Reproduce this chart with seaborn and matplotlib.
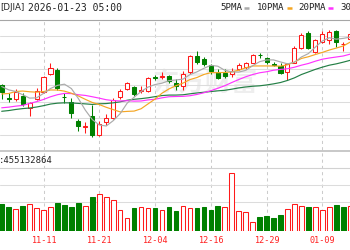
import numpy as np
import pandas as pd
import matplotlib
matplotlib.use("Agg")
import matplotlib.pyplot as plt
import matplotlib.transforms as mtrans
from matplotlib.lines import Line2D
import seaborn as sns

# ---------------- data ----------------
dates = ["11-03", "11-04", "11-05", "11-06", "11-07", "11-10", "11-11", "11-12", "11-13", "11-14",
         "11-17", "11-18", "11-19", "11-20", "11-21", "11-24", "11-25", "11-26", "11-28",
         "12-01", "12-02", "12-03", "12-04", "12-05", "12-08", "12-09", "12-10", "12-11", "12-12",
         "12-15", "12-16", "12-17", "12-18", "12-19", "12-22", "12-23", "12-24", "12-26",
         "12-29", "12-30", "12-31", "01-02", "01-05", "01-06", "01-07", "01-08", "01-09",
         "01-12", "01-13", "01-14", "01-15"]
opens = [47600, 47140, 47100, 47200, 46750, 47100, 47360, 48010, 48170, 47180,
         46990, 46290, 46040, 46460, 45760, 46250, 46400, 47150, 47460,
         47520, 47400, 47370, 47900, 47900, 47940, 47680, 47570, 48090, 48690,
         48580, 48350, 48110, 48050, 48000, 48200, 48270, 48440, 48730,
         48620, 48400, 48320, 48100, 48440, 48980, 49530, 48850, 49220,
         49280, 49620, 49120, 49310]
highs = [47650, 47300, 47470, 47300, 46990, 47500, 47960, 48430, 48230, 47300,
         47110, 46350, 46250, 46860, 46260, 46530, 47110, 47450, 47730,
         47560, 47560, 47920, 47990, 48100, 47990, 47830, 48120, 48730, 48880,
         48640, 48400, 48200, 48200, 48230, 48420, 48470, 48760, 48790,
         48650, 48450, 48420, 48420, 49050, 49530, 49620, 49310, 49620,
         49640, 49650, 49220, 49560]
lows = [47090, 46990, 47030, 46820, 46440, 47050, 47330, 47980, 47420, 46930,
        46380, 45910, 45840, 45690, 45720, 46120, 46350, 47100, 47430,
        47200, 47300, 47340, 47780, 47850, 47700, 47430, 47440, 48000, 48400,
        48300, 48000, 47850, 47880, 47900, 48150, 48200, 48420, 48620,
        48400, 48300, 48010, 47800, 48420, 48940, 48940, 48800, 49180,
        49150, 49030, 48880, 49280]
closes = [47340, 47090, 47340, 46910, 46930, 47390, 47920, 48240, 47500, 47150,
          46570, 46070, 46080, 45750, 46150, 46380, 47060, 47390, 47690,
          47260, 47440, 47880, 47860, 47940, 47740, 47560, 48030, 48700, 48450,
          48400, 48120, 47870, 47950, 48140, 48360, 48440, 48730, 48710,
          48460, 48370, 48060, 48380, 48980, 49460, 49000, 49270, 49510,
          49590, 49190, 49150, 49500]
# volume, millions of shares
volumes = [540, 474, 434, 506, 540, 454, 420, 474, 566, 520,
           474, 566, 500, 674, 740, 686, 614, 420, 254,
           454, 474, 466, 454, 420, 474, 406, 506, 460, 454,
           474, 420, 510, 486, 1154, 394, 380, 180, 274,
           294, 254, 314, 434, 540, 506, 474, 474, 420,
           474, 520, 490, 500]
# closes before the visible window (for the moving averages)
history_closes = [46382, 46293, 46121, 45947, 46247, 46316, 46398, 46441, 46520, 46758,
                  46695, 46603, 46602, 46358, 45480, 46068, 46270, 46253, 45952, 46191,
                  46707, 46925, 46590, 46735, 47207, 47545, 47706, 47632, 47522, 47563]
tick_labels = ["10-30", "11-11", "11-21", "12-04", "12-16", "12-29", "01-09"]
tick_pos = [-2, 6, 14, 22, 30, 38, 46]
ma_periods = [5, 10, 20, 30]
ma_names = ["5PMA", "10PMA", "20PMA", "30PMA"]
ma_colors = ["#ababab", "#f5a623", "#ff33ff", "#237f45"]
title_code = "[DJIA]"
title_time = "2026-01-23 05:00"
volume_text = ":455132864"

# ---------------- style ----------------
sns.set_theme(style="white")
plt.rcParams["font.family"] = ["DejaVu Sans"]

W, H = 350, 250
fig = plt.figure(figsize=(3.5, 2.5), dpi=100)
fig.patch.set_facecolor("white")


def fx(x):
    return x / W


def fy(y):
    return 1 - y / H


RED = "#ff1a1a"
GREEN = "#008000"
n = len(closes)
idx = np.arange(n)
xlim = (-0.244, -0.244 + W / 6.97)
ylo, yhi = 45157, 50043

# background axes: vertical dashed grid + watermark
ax_bg = fig.add_axes([0, fy(231), 1, fy(19.5) - fy(231)])
ax_bg.set_xlim(xlim)
ax_bg.axis("off")
for p in tick_pos:
    ax_bg.axvline(p, color="#cccccc", lw=0.75, ls=(0, (3, 3)))
ax_bg.text(fx(205), fy(83), "东方财富", transform=fig.transFigure, ha="center", va="center",
           fontsize=19, fontweight="bold", color="#eeeeee", family=["Noto Sans CJK SC"])

# ---------------- main price panel ----------------
ax = fig.add_axes([0, fy(151), 1, fy(19.5) - fy(151)])
ax.set_facecolor("none")
ax.set_xlim(xlim)
ax.set_ylim(ylo, yhi)
ax.set_yticks(np.linspace(ylo, yhi, 9)[1:-1])
ax.grid(axis="y", color="#dcdcdc", lw=0.75)
ax.grid(axis="x", visible=False)
ax.tick_params(left=False, bottom=False, labelleft=False, labelbottom=False)
for s in ["left", "right"]:
    ax.spines[s].set_visible(False)
ax.spines["top"].set_color("#a6a6a6")
ax.spines["top"].set_linewidth(0.8)
ax.spines["bottom"].set_color("#bfbfbf")
ax.spines["bottom"].set_linewidth(1.2)
ax.set_axisbelow(True)

o, h, l, c = (np.array(v, dtype=float) for v in (opens, highs, lows, closes))
up = c >= o
ccol = [RED if u else GREEN for u in up]
ax.vlines(idx, l, h, colors=ccol, lw=0.75, zorder=2)
body_lo = np.minimum(o, c)
body_h = np.maximum(np.abs(c - o), 18)
ax.bar(idx, body_h, bottom=body_lo, width=0.58,
       color=["white" if u else GREEN for u in up], edgecolor=ccol, linewidth=0.75, zorder=3)

all_close = pd.Series(history_closes + closes, dtype=float)
ma_df = pd.DataFrame({"idx": idx})
for p, name in zip(ma_periods, ma_names):
    ma_df[name] = all_close.rolling(p).mean().iloc[-n:].to_numpy()
long = ma_df.melt("idx", var_name="ma", value_name="val")
sns.lineplot(data=long, x="idx", y="val", hue="ma", hue_order=ma_names[::-1],
             palette=dict(zip(ma_names, ma_colors)), lw=0.85, legend=False, ax=ax, zorder=4)
ax.set_xlabel("")
ax.set_ylabel("")
ax.set_xlim(xlim)
ax.set_ylim(ylo, yhi)

# ---------------- volume panel ----------------
axv = fig.add_axes([0, fy(231), 1, fy(168) - fy(231)])
axv.set_facecolor("none")
axv.set_xlim(xlim)
axv.set_ylim(0, 1260)
prev = np.r_[history_closes[-1], c[:-1]]
vup = c > prev
axv.bar(idx, volumes, width=0.66,
        color=["white" if u else GREEN for u in vup],
        edgecolor=[RED if u else GREEN for u in vup], linewidth=0.75, zorder=3)
axv.set_yticks([590, 920])
axv.grid(axis="y", color="#dcdcdc", lw=0.75)
axv.grid(axis="x", visible=False)
axv.set_axisbelow(True)
axv.tick_params(left=False, bottom=False, labelleft=False, labelbottom=False)
for s in ["left", "right", "bottom"]:
    axv.spines[s].set_visible(False)
axv.spines["top"].set_color("#d2d2d2")
axv.spines["top"].set_linewidth(0.8)

# x labels
tr = mtrans.blended_transform_factory(axv.transData, fig.transFigure)
for p, lab in zip(tick_pos, tick_labels):
    axv.text(p, fy(240.7), lab, transform=tr, ha="center", va="center", color="#ff2020",
             fontsize=6.1, family="DejaVu Sans Mono", clip_on=False)

# ---------------- header texts ----------------
fig.text(fx(0.0), fy(7.6), title_code, ha="left", va="center", fontsize=6.2,
         family="DejaVu Sans", color="#222222")
fig.text(fx(28.3), fy(7.6), title_time, ha="left", va="center", fontsize=7.0,
         family="DejaVu Sans Mono", color="#222222")
fig.text(fx(-0.8), fy(160.5), volume_text, ha="left", va="center", fontsize=6.4,
         family="DejaVu Sans Mono", color="#222222")

leg_x = [220, 257, 298, 340]
for x0, name, col in zip(leg_x, ma_names, ma_colors):
    fig.text(fx(x0), fy(7.8), name, ha="left", va="center", fontsize=6.6,
             family="DejaVu Sans Mono", color="#222222")
    mx = x0 + len(name) * 5.48 + 2.5
    fig.add_artist(Line2D([fx(mx), fx(mx + 5)], [fy(7.8), fy(7.8)], color=col, lw=1.8,
                          transform=fig.transFigure, solid_capstyle="butt"))

fig.savefig("out.png", dpi=100, facecolor="white")
